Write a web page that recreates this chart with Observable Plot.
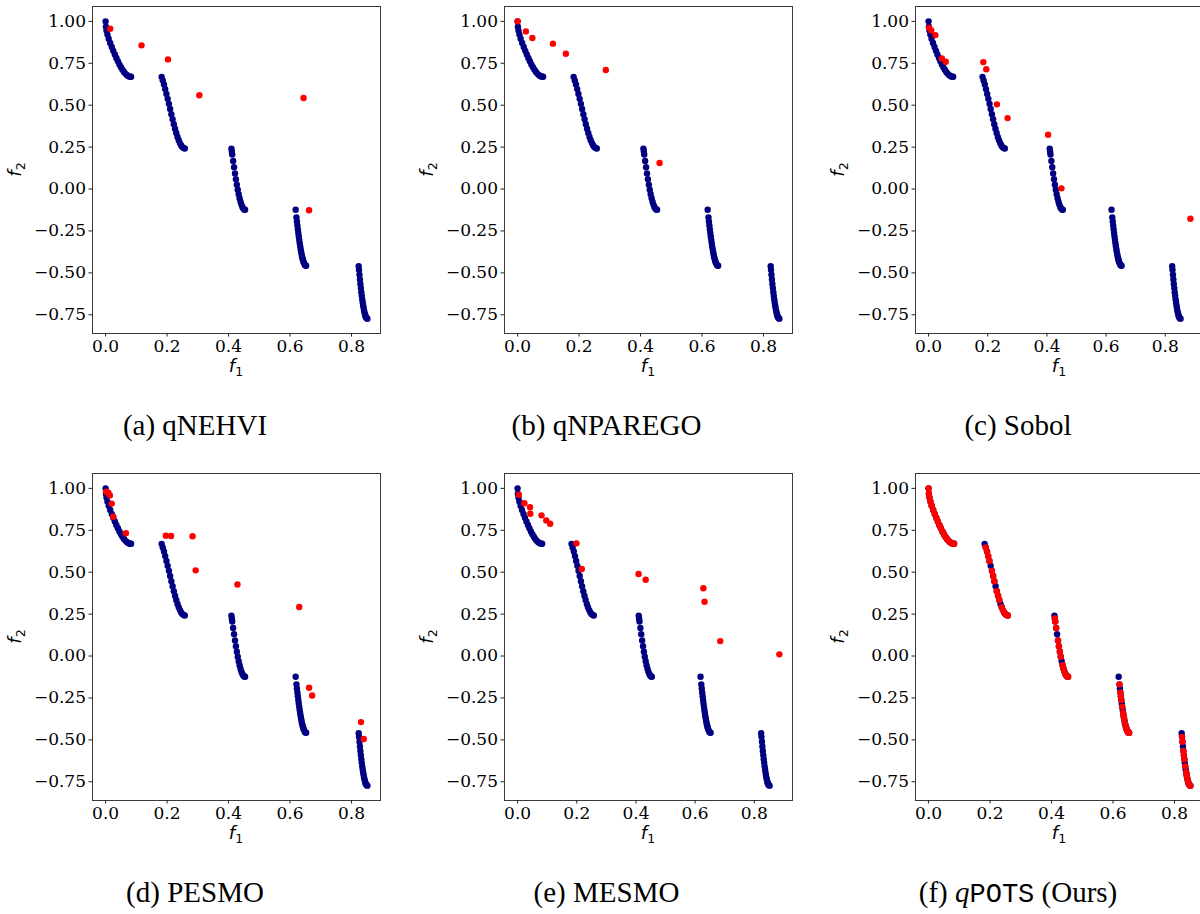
<!DOCTYPE html>
<html>
<head>
<meta charset="utf-8">
<script src="https://cdn.jsdelivr.net/npm/d3@7"></script>
<script src="https://cdn.jsdelivr.net/npm/@observablehq/plot@0.6"></script>
<style>
  html, body { margin: 0; padding: 0; background: #fff; overflow: hidden; width: 1200px; height: 914px; }
  #root { position: relative; width: 1200px; height: 914px; overflow: hidden; }
  .panel { position: absolute; width: 400px; height: 380px; }
  .panel svg { max-width: none !important; }
  #captions { position: absolute; left: 0; top: 0; pointer-events: none; }
</style>
</head>
<body>
<div id="root"></div>
<script>
// ---- True Pareto front (read from the navy points) ----
const frontF1 = [
  0, 0.001, 0.003, 0.006, 0.010, 0.015, 0.020, 0.025, 0.030, 0.035, 0.040, 0.045, 0.050, 0.055, 0.060, 0.065, 0.070, 0.075, 0.080, 0.083,
  0.1823, 0.186, 0.190, 0.194, 0.198, 0.202, 0.206, 0.210, 0.214, 0.218, 0.222, 0.226, 0.230, 0.234, 0.238, 0.242, 0.246, 0.250, 0.254, 0.2577,
  0.4094, 0.4107, 0.412, 0.415, 0.418, 0.421, 0.424, 0.427, 0.430, 0.433, 0.436, 0.439, 0.442, 0.445, 0.448, 0.451, 0.4538,
  0.6184, 0.621, 0.6225, 0.624, 0.6255, 0.627, 0.6285, 0.630, 0.6315, 0.633, 0.6345, 0.636, 0.6375, 0.639, 0.6405, 0.642, 0.6435, 0.645, 0.648, 0.650, 0.6525,
  0.8234, 0.8245, 0.826, 0.8275, 0.829, 0.8305, 0.832, 0.8335, 0.835, 0.8365, 0.838, 0.8395, 0.841, 0.8425, 0.844, 0.8455, 0.847, 0.8495, 0.8518
];
const frontF2 = [
  1.000, 0.968, 0.945, 0.921, 0.897, 0.871, 0.847, 0.824, 0.803, 0.782, 0.762, 0.743, 0.726, 0.711, 0.698, 0.687, 0.679, 0.673, 0.670, 0.670,
  0.669, 0.648, 0.623, 0.596, 0.567, 0.538, 0.508, 0.477, 0.446, 0.416, 0.387, 0.360, 0.334, 0.311, 0.291, 0.274, 0.260, 0.250, 0.244, 0.242,
  0.241, 0.224, 0.206, 0.167, 0.130, 0.093, 0.059, 0.026, -0.004, -0.031, -0.055, -0.076, -0.093, -0.107, -0.116, -0.122, -0.124,
  -0.124, -0.169, -0.193, -0.217, -0.240, -0.262, -0.283, -0.303, -0.322, -0.340, -0.357, -0.373, -0.387, -0.401, -0.413, -0.423, -0.432, -0.440, -0.452, -0.456, -0.458,
  -0.460, -0.482, -0.511, -0.539, -0.566, -0.591, -0.615, -0.637, -0.658, -0.677, -0.695, -0.710, -0.725, -0.737, -0.748, -0.757, -0.764, -0.771, -0.773
];

// ---- Solutions found by each method (red points) ----
const qnehviF1 = [0.015, 0.117, 0.203, 0.305, 0.644, 0.662];
const qnehviF2 = [0.956, 0.857, 0.773, 0.559, 0.543, -0.127];

const qnparegoF1 = [0.000, 0.027, 0.048, 0.115, 0.157, 0.287, 0.462];
const qnparegoF2 = [1.000, 0.940, 0.901, 0.867, 0.807, 0.710, 0.155];

const sobolF1 = [0.002, 0.009, 0.023, 0.045, 0.058, 0.185, 0.195, 0.231, 0.267, 0.404, 0.449, 0.885];
const sobolF2 = [0.960, 0.946, 0.918, 0.779, 0.759, 0.757, 0.714, 0.505, 0.423, 0.324, 0.004, -0.177];

const pesmoF1 = [0.002, 0.009, 0.014, 0.020, 0.025, 0.066, 0.196, 0.213, 0.283, 0.293, 0.429, 0.630, 0.662, 0.672, 0.831, 0.840];
const pesmoF2 = [0.980, 0.974, 0.958, 0.909, 0.831, 0.732, 0.718, 0.716, 0.714, 0.511, 0.427, 0.292, -0.189, -0.235, -0.394, -0.495];

const mesmoF1 = [0.0045, 0.023, 0.042, 0.043, 0.081, 0.097, 0.110, 0.199, 0.217, 0.409, 0.433, 0.628, 0.632, 0.685, 0.885];
const mesmoF2 = [0.962, 0.911, 0.887, 0.849, 0.839, 0.809, 0.789, 0.672, 0.519, 0.489, 0.455, 0.404, 0.324, 0.089, 0.010];

const qpotsF1 = [
  0, 0.001, 0.003, 0.006, 0.010, 0.015, 0.020, 0.025, 0.030, 0.035, 0.040, 0.045, 0.050, 0.055, 0.060, 0.065, 0.070, 0.075, 0.080, 0.083,
  0.186, 0.190, 0.194, 0.198, 0.206, 0.210, 0.214, 0.222, 0.226, 0.230, 0.238, 0.242, 0.246, 0.250, 0.254, 0.2577,
  0.4107, 0.412, 0.415, 0.421, 0.424, 0.427, 0.430, 0.436, 0.439, 0.442, 0.445, 0.448, 0.451, 0.4538,
  0.621, 0.624, 0.6255, 0.627, 0.630, 0.633, 0.6345, 0.636, 0.639, 0.642, 0.6435, 0.645, 0.648, 0.650, 0.6525,
  0.8245, 0.826, 0.829, 0.8305, 0.832, 0.835, 0.838, 0.8395, 0.841, 0.844, 0.847, 0.8495, 0.8518
];
const qpotsF2 = [
  1.000, 0.968, 0.945, 0.921, 0.897, 0.871, 0.847, 0.824, 0.803, 0.782, 0.762, 0.743, 0.726, 0.711, 0.698, 0.687, 0.679, 0.673, 0.670, 0.670,
  0.648, 0.623, 0.596, 0.567, 0.508, 0.477, 0.446, 0.387, 0.360, 0.334, 0.291, 0.274, 0.260, 0.250, 0.244, 0.242,
  0.224, 0.206, 0.167, 0.093, 0.059, 0.026, -0.004, -0.055, -0.076, -0.093, -0.107, -0.116, -0.122, -0.124,
  -0.169, -0.217, -0.240, -0.262, -0.303, -0.340, -0.357, -0.373, -0.401, -0.423, -0.432, -0.440, -0.452, -0.456, -0.458,
  -0.482, -0.511, -0.566, -0.591, -0.615, -0.658, -0.695, -0.710, -0.725, -0.748, -0.764, -0.771, -0.773
];

// ---- Ticks and captions ----
const xTicks = [0, 0.2, 0.4, 0.6, 0.8];
const yTicks = [-0.75, -0.5, -0.25, 0, 0.25, 0.5, 0.75, 1.0];
const captionLetters = ["(a)", "(b)", "(c)", "(d)", "(e)", "(f)"];
const methodNames = ["qNEHVI", "qNPAREGO", "Sobol", "PESMO", "MESMO", "qPOTS"];

// ---- build ----
const zip = (a, b) => a.map((v, i) => ({f1: v, f2: b[i]}));
const front = zip(frontF1, frontF2);
const redSets = [
  zip(qnehviF1, qnehviF2), zip(qnparegoF1, qnparegoF2), zip(sobolF1, sobolF2),
  zip(pesmoF1, pesmoF2), zip(mesmoF1, mesmoF2), zip(qpotsF1, qpotsF2)
];

const colLeft = [0, 411.5, 823];
const rowTop = [0, 467];
const W = 400, H = 380, ML = 92, MR = 20, MT = 6, MB = 47;
const root = document.getElementById("root");
const tickFont = {fontFamily: "DejaVu Serif", fontSize: 17};

function padded(values) {
  const [lo, hi] = d3.extent(values);
  const d = (hi - lo) * 0.05;
  return [lo - d, hi + d];
}

redSets.forEach((red, i) => {
  const col = i % 3, row = Math.floor(i / 3);
  const all = front.concat(red);
  const xd = padded(all.map(d => d.f1));
  const yd = padded(all.map(d => d.f2));
  const svg = Plot.plot({
    width: W, height: H,
    marginLeft: ML, marginRight: MR, marginTop: MT, marginBottom: MB,
    style: {fontFamily: "DejaVu Serif", fontSize: "17px", color: "#000", background: "transparent", overflow: "visible", maxWidth: "none"},
    x: {domain: xd},
    y: {domain: yd},
    marks: [
      Plot.dot(front, {x: "f1", y: "f2", r: 3.2, fill: "navy"}),
      Plot.dot(red, {x: "f1", y: "f2", r: 3.2, fill: "red"}),
      Plot.frame({stroke: "#3a3a3a", strokeWidth: 1}),
      Plot.axisX({ticks: xTicks, tickFormat: d3.format(".1f"), tickSize: 3.5, tickPadding: 2.5, label: null, stroke: "#222", ...tickFont}),
      Plot.axisY({ticks: yTicks, tickFormat: d3.format(".2f"), tickSize: 3.5, tickPadding: 3, label: null, stroke: "#222", ...tickFont})
    ]
  });
  svg.querySelectorAll("text").forEach(t => t.setAttribute("font-family", "DejaVu Serif"));
  const s = d3.select(svg);
  const cx = ML + (W - ML - MR) / 2;
  const cy = MT + (H - MT - MB) / 2;
  const xl = s.append("text")
    .attr("x", cx).attr("y", 372)
    .attr("text-anchor", "middle")
    .attr("font-family", "DejaVu Sans").attr("font-size", 18).attr("fill", "#000");
  xl.append("tspan").attr("font-style", "italic").text("f");
  xl.append("tspan").attr("font-size", 12.5).attr("dy", 4).text("1");
  const yl = s.append("text")
    .attr("transform", `translate(${21},${cy}) rotate(-90)`)
    .attr("text-anchor", "middle")
    .attr("font-family", "DejaVu Sans").attr("font-size", 18).attr("fill", "#000");
  yl.append("tspan").attr("font-style", "italic").text("f");
  yl.append("tspan").attr("font-size", 12.5).attr("dy", 4).text("2");

  const div = document.createElement("div");
  div.className = "panel";
  div.style.left = colLeft[col] + "px";
  div.style.top = rowTop[row] + "px";
  div.appendChild(svg);
  root.appendChild(div);
});

// ---- captions ----
const cap = d3.select(root).append("svg")
  .attr("id", "captions").attr("width", 1200).attr("height", 914);
captionLetters.forEach((letter, i) => {
  const col = i % 3, row = Math.floor(i / 3);
  const t = cap.append("text")
    .attr("x", colLeft[col] + 195)
    .attr("y", 435 + rowTop[row])
    .attr("text-anchor", "middle")
    .attr("font-family", "Liberation Serif")
    .attr("font-size", 29)
    .attr("fill", "#000");
  if (methodNames[i] === "qPOTS") {
    t.append("tspan").text(letter + " ");
    t.append("tspan").attr("font-style", "italic").text("q");
    t.append("tspan").attr("font-family", "Liberation Mono").attr("font-size", 27).text("POTS");
    t.append("tspan").text(" (Ours)");
  } else {
    t.text(letter + " " + methodNames[i]);
  }
});
</script>
</body>
</html>
